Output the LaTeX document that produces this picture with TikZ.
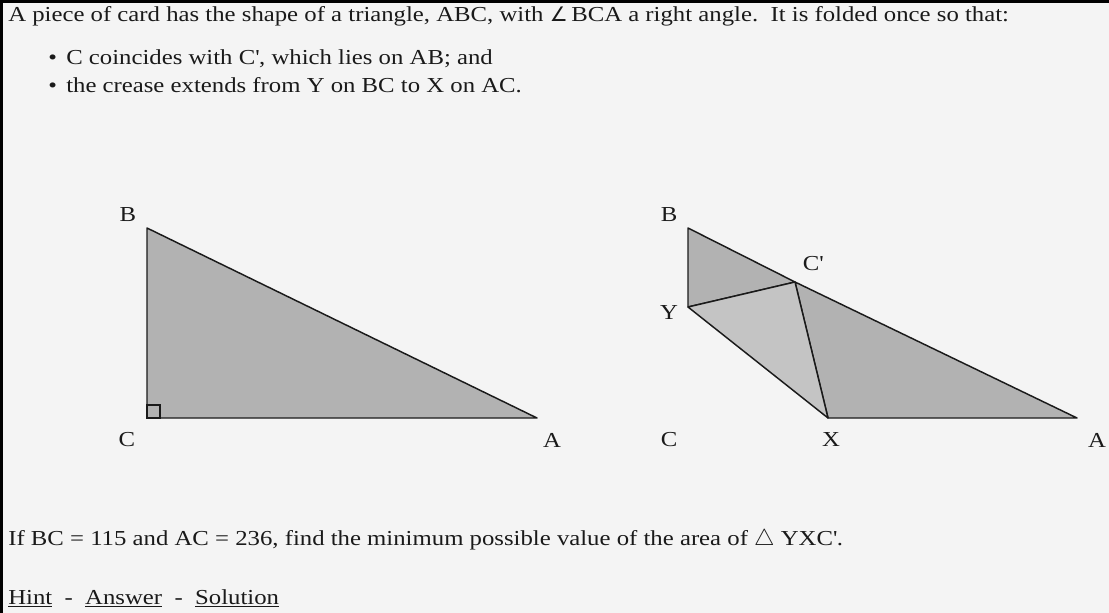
\documentclass[tikz,border=0pt]{standalone}
\usepackage{fontspec}
\setmainfont{Liberation Serif}[FakeStretch=1.16]
\newfontfamily\symfont{DejaVu Sans}
\usepackage{tikz}
\usetikzlibrary{positioning,calc}
\definecolor{pagebg}{HTML}{F4F4F4}
\definecolor{cardgray}{HTML}{B2B2B2}
\definecolor{flapgray}{HTML}{C4C4C4}
\definecolor{inkgray}{HTML}{1A1A1A}
\newcommand\Cprime{C\textquotesingle}
\tikzset{
  % papper
  card/.style={fill=cardgray,draw=inkgray,line width=1.1pt,line join=round},
  flap/.style={fill=flapgray,draw=inkgray,line width=1.1pt,line join=round},
  rt/.style={draw=inkgray,line width=0.9pt},
  % text
  txt/.style={anchor=base west,inner sep=0pt,text=inkgray,
              font=\fontsize{16}{19}\selectfont},
  lbl/.style={inner sep=0pt,text=inkgray,font=\fontsize{16}{19}\selectfont},
}
\begin{document}
\begin{tikzpicture}[x=0.75pt,y=-0.75pt]
\useasboundingbox (0,0) rectangle (1109,613);
  \fill[pagebg] (0,0) rectangle (1109,613);
  \draw[line width=2.3pt] (0,1.5) -- (1109,1.5);
  \draw[line width=2.3pt] (1.5,0) -- (1.5,613);
  % uppgiften
  \node[txt] (intro) at (8,22) {A piece of card has the shape of a triangle, ABC, with {\symfont\fontsize{15}{19}\selectfont ∠}\,BCA a right angle.\ \ It is folded once so that:};
  \node[txt] (dot1) at (48,65) {\textbullet};
  \node[txt] (item1) at (66,65) {C coincides with \Cprime, which lies on AB; and};
  \node[txt] (dot2) at (48,93) {\textbullet};
  \node[txt] (item2) at (66,93) {the crease extends from Y on BC to X on AC.};
  % vikt triangel, vänster
  \coordinate (B1) at (147,228);
  \coordinate (C1) at (147,418);
  \coordinate (A1) at (537,418);
  \draw[card] (B1) -- (C1) -- (A1) -- cycle;
  \draw[rt] (C1) rectangle ++(13,-13);
  \node[lbl] (lB1) at (128,215) {B};
  \node[lbl] (lC1) at (127,440) {C};
  \node[lbl] (lA1) at (552,440) {A};
  % vikt triangel, höger
  \coordinate (B2) at (688,228);
  \coordinate (Y) at (688,307);
  \coordinate (Cp) at (795,282);
  \coordinate (X) at (828,418);
  \coordinate (A2) at (1077,418);
  \draw[card] (B2) -- (Cp) -- (Y) -- cycle;
  \draw[card] (Cp) -- (A2) -- (X) -- cycle;
  \draw[flap] (Y) -- (Cp) -- (X) -- cycle;
  \node[lbl] (lB2) at (669,215) {B};
  \node[lbl] (lCp) at (813,264) {\Cprime};
  \node[lbl] (lY) at (669,313) {Y};
  \node[lbl] (lC2) at (669,440) {C};
  \node[lbl] (lX) at (831,440) {X};
  \node[lbl] (lA2) at (1097,440) {A};
  % frågan
  \node[txt] (ask) at (8,545) {If BC = 115 and AC = 236, find the minimum possible value of the area of $\triangle$ YX\Cprime.};
  \node[txt] (links) at (8,604) {\underline{Hint}\ \ -\ \ \underline{Answer}\ \ -\ \ \underline{Solution}};
\end{tikzpicture}
\end{document}
